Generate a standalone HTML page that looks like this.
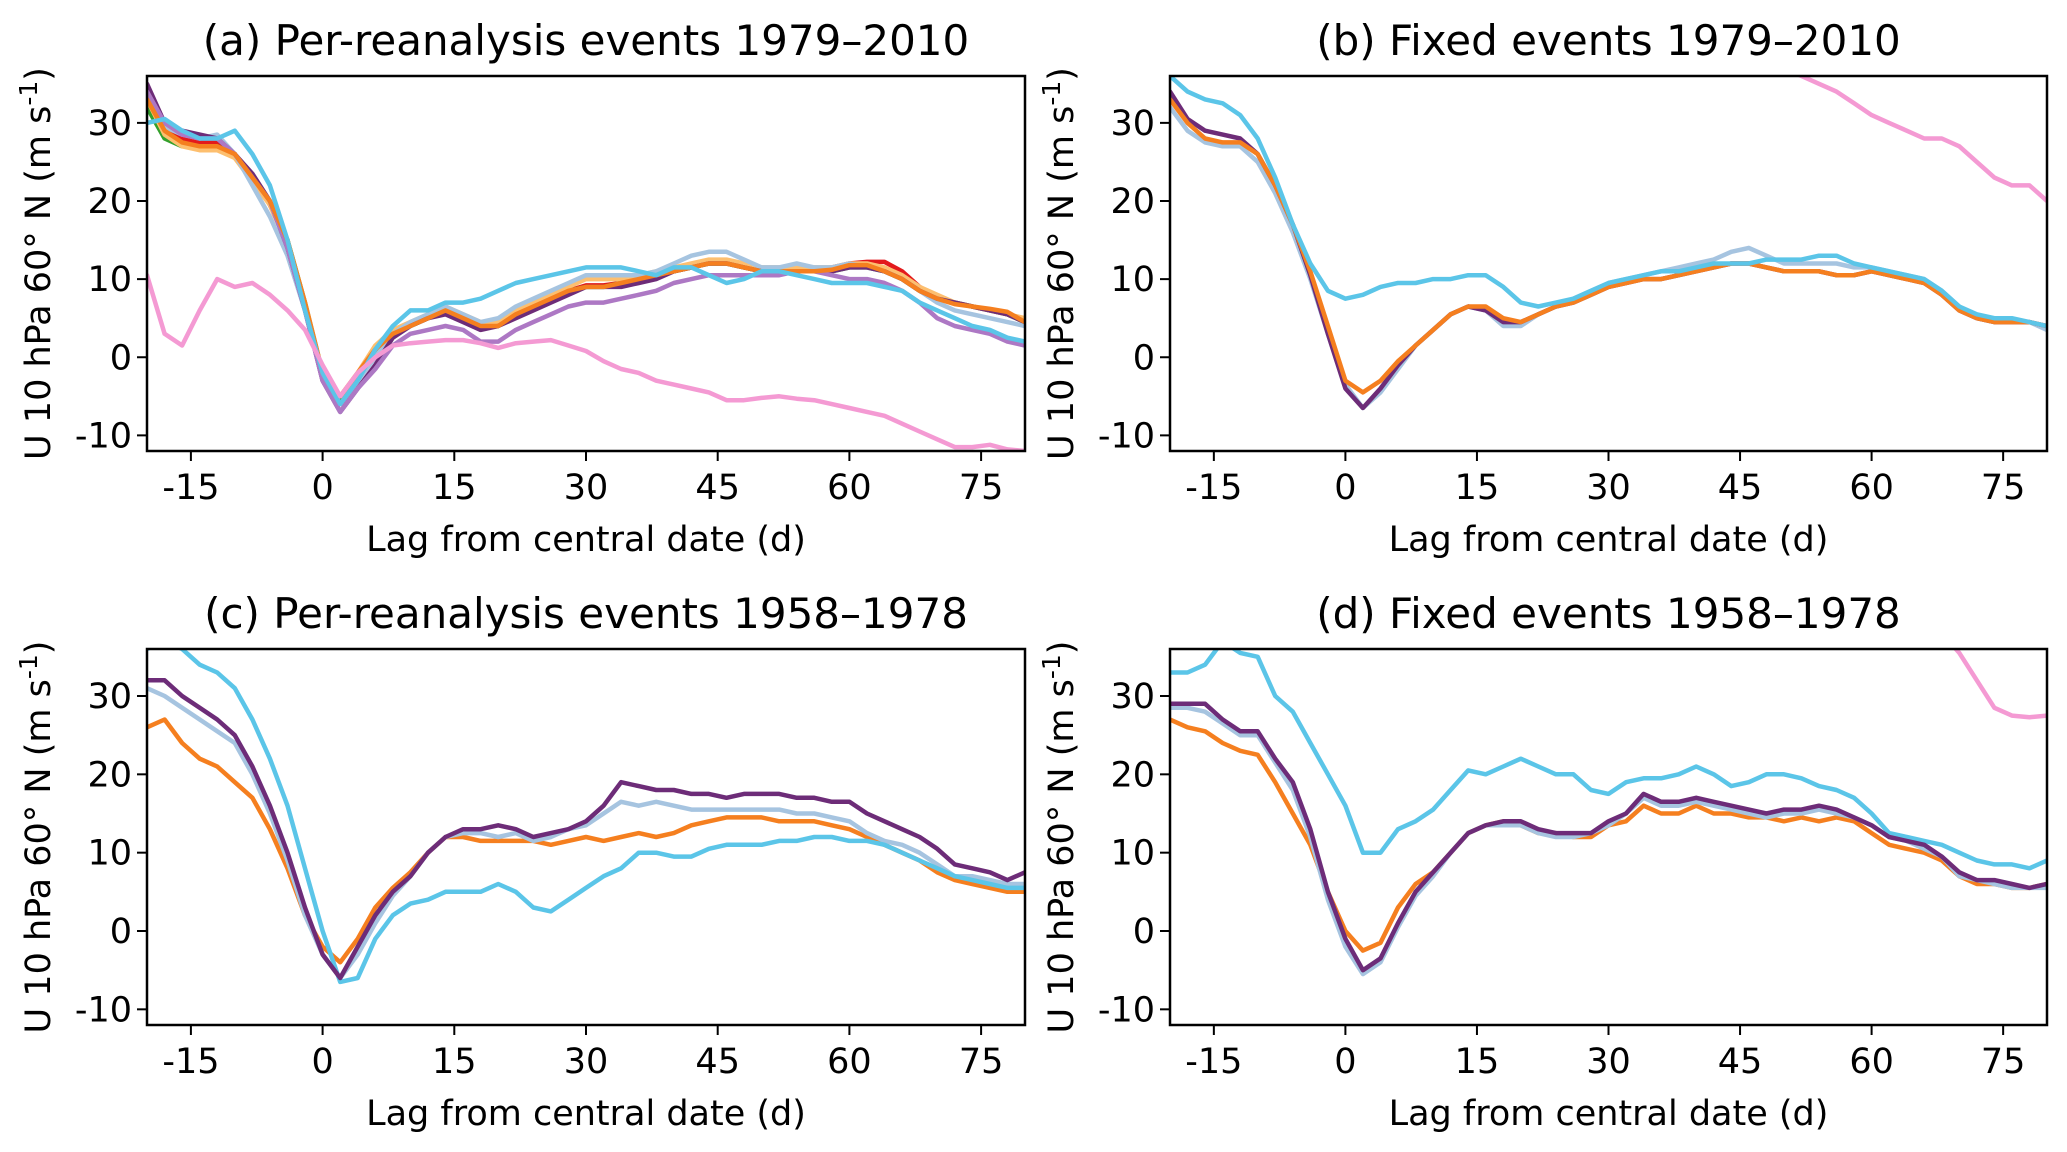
<!DOCTYPE html>
<html><head><meta charset="utf-8"><style>
html,body{margin:0;padding:0;background:#fff;}
svg{display:block;font-family:"DejaVu Sans","Liberation Sans",sans-serif;}
</style></head><body>
<svg id="fig" width="2067" height="1152" viewBox="0 0 2067 1152"></svg>
<script>
const lags = Array.from({length:51},(_,i)=>-20+2*i);
const xTicks = [-15,0,15,30,45,60,75];
const yTicks = [-10,0,10,20,30];
const titles = ["(a) Per-reanalysis events 1979–2010","(b) Fixed events 1979–2010","(c) Per-reanalysis events 1958–1978","(d) Fixed events 1958–1978"];

// Panel a
const aRed = [33.5,29.5,28,27.5,27.5,26,23,19.5,14.5,6.5,-2.5,-6,-3,0.5,3,4,5,6,5,4,4.2,5.5,6.5,7.5,8.5,9.2,9.2,9.5,10,10.5,11,11.5,12.2,12.2,11.5,11.2,11,11.2,11.2,11.5,12,12.2,12.2,11,9,7.5,7,6.5,6,5.5,4.5];
const aGreen = [32,28,27,27,27,26,23,20,15,7,-2,-5.5,-2.5,1,3,4,5,6,5,4,4,5.5,6.5,7.5,8.5,9,9,9.5,10,10.5,11,11.5,12,12,11.5,11,11,11,11,11,11.5,11.5,11,10,8.5,7.5,7,6.5,6,5.5,4.5];
const aLightOrange = [33,28.5,27,26.5,26.5,25.5,22.5,19.5,14.5,7,-2,-5,-2,1.5,3.5,4.5,5.5,6.5,5.5,4.5,4.5,6,7,8,9,10,10,10,10.5,11,11.5,12,12.5,12.5,12,11.5,11.5,11.5,11.5,11.5,12,12,11.5,10.5,9,8,7,6.5,6,5.5,5];
const aLightBlue = [34,29.5,28.5,28,28.5,26,22,18,13,6,-2,-6,-3,0,3,4.5,5.5,6.5,5.5,4.5,5,6.5,7.5,8.5,9.5,10.5,10.5,10.5,10.5,11,12,13,13.5,13.5,12.5,11.5,11.5,12,11.5,11.5,12,11.5,11,10,8.5,7,6,5.5,5,4.5,4];
const aDarkPurple = [35,30,29,28.5,28,26,23.5,20,14,6,-3,-7,-4,-1,2.5,4,5,5.5,4.5,3.5,4,5,6,7,8,9,9,9,9.5,10,11,11.5,12,12,11.5,11,11,11,11,11,11.5,11.5,11,10,8.5,7.5,7,6.5,6,5.5,4.5];
const aOrchid = [34,30,28.5,28,28,26,23,20,14,6,-3,-7,-4,-1.5,1.5,3,3.5,4,3.5,2,2,3.5,4.5,5.5,6.5,7,7,7.5,8,8.5,9.5,10,10.5,10.5,10.5,10.5,10.5,11,11,10.5,10,10,9.5,8.5,7,5,4,3.5,3,2,1.5];
const aOrange = [33,29,27.5,27,27,26,23,20,15,7,-2,-5,-2,1,3,4,5,6,5,4,4,5.5,6.5,7.5,8.5,9,9,9.5,10,10.5,11,11.5,12,12,11.5,11,11,11,11,11.2,11.8,11.8,11,10,8.5,7.5,6.8,6.5,6.2,5.8,4.5];
const aCyan = [30,30.5,29,28,28,29,26,22,15,6,-2,-6,-3,1,4,6,6,7,7,7.5,8.5,9.5,10,10.5,11,11.5,11.5,11.5,11,10.5,11.5,11.5,10.5,9.5,10,11,11,10.5,10,9.5,9.5,9.5,9,8.5,7,6,5,4,3.5,2.5,2];
const aPink = [10.5,3,1.5,6,10,9,9.5,8,6,3.5,-1,-5,-2,0,1.5,1.8,2,2.2,2.2,1.8,1.2,1.8,2,2.2,1.5,0.8,-0.5,-1.5,-2,-3,-3.5,-4,-4.5,-5.5,-5.5,-5.2,-5,-5.3,-5.5,-6,-6.5,-7,-7.5,-8.5,-9.5,-10.5,-11.5,-11.5,-11.2,-11.8,-12];

// Panel b
const bOrange = [33,30,28,27.5,27.5,26,22,17,11,4,-3,-4.5,-3,-0.5,1.5,3.5,5.5,6.5,6.5,5,4.5,5.5,6.5,7,8,9,9.5,10,10,10.5,11,11.5,12,12,11.5,11,11,11,10.5,10.5,11,10.5,10,9.5,8,6,5,4.5,4.5,4.5,4];
const bLightBlue = [32,29,27.5,27,27,25,21,16,10,3,-3.5,-6.5,-4.5,-1.5,1.5,3.5,5.5,6.5,6,4,4,5.5,6.5,7.5,8.5,9.5,10,10.5,11,11.5,12,12.5,13.5,14,13,12,12,12,12,11.5,11.5,11,10.5,10,8.5,6.5,5,4.5,4.5,4.5,3.5];
const bDarkPurple = [34,30.5,29,28.5,28,26,22,17,10.5,3,-4,-6.5,-4,-1,1.5,3.5,5.5,6.5,6,4.5,4.5,5.5,6.5,7,8,9,9.5,10,10,10.5,11,11.5,12,12,11.5,11,11,11,10.5,10.5,11,10.5,10,9.5,8,6,5,4.5,4.5,4.5,4];
const bCyan = [36,34,33,32.5,31,28,23,17,12,8.5,7.5,8,9,9.5,9.5,10,10,10.5,10.5,9,7,6.5,7,7.5,8.5,9.5,10,10.5,11,11,11.5,12,12,12,12.5,12.5,12.5,13,13,12,11.5,11,10.5,10,8.5,6.5,5.5,5,5,4.5,4];
const bPink = [null,null,null,null,null,null,null,null,null,null,null,null,null,null,null,null,null,null,null,null,null,null,null,null,null,null,null,null,null,null,null,null,null,null,null,37,36,35,34,32.5,31,30,29,28,28,27,25,23,22,22,20];

// Panel c
const cOrange = [26,27,24,22,21,19,17,13,8,2,-2,-4,-1,3,5.5,7.5,10,12,12,11.5,11.5,11.5,11.5,11,11.5,12,11.5,12,12.5,12,12.5,13.5,14,14.5,14.5,14.5,14,14,14,13.5,13,12,11,10,9,7.5,6.5,6,5.5,5,5];
const cLightBlue = [31,30,28.5,27,25.5,24,20,15,9,2,-3,-6,-3,1,4.5,7,10,12,12.5,12.5,12,12.5,11.5,12,13,13.5,15,16.5,16,16.5,16,15.5,15.5,15.5,15.5,15.5,15.5,15,15,14.5,14,12.5,11.5,11,10,8.5,7,7,6.5,6,6];
const cDarkPurple = [32,32,30,28.5,27,25,21,16,10,3,-3,-6,-2,2,5,7,10,12,13,13,13.5,13,12,12.5,13,14,16,19,18.5,18,18,17.5,17.5,17,17.5,17.5,17.5,17,17,16.5,16.5,15,14,13,12,10.5,8.5,8,7.5,6.5,7.5];
const cCyan = [36,37,36,34,33,31,27,22,16,8,0,-6.5,-6,-1,2,3.5,4,5,5,5,6,5,3,2.5,4,5.5,7,8,10,10,9.5,9.5,10.5,11,11,11,11.5,11.5,12,12,11.5,11.5,11,10,9,8,7,6.5,6,5.5,5.5];

// Panel d
const dOrange = [27,26,25.5,24,23,22.5,19,15,11,5,0,-2.5,-1.5,3,6,7.5,10,12.5,13.5,14,13.5,12.5,12.5,12,12,13.5,14,16,15,15,16,15,15,14.5,14.5,14,14.5,14,14.5,14,12.5,11,10.5,10,9,7,6,6,5.5,5.5,6];
const dLightBlue = [28.5,28.5,28,26.5,25,25,21.5,18,12,4,-2,-5.5,-4,0.5,4.5,7,10,12.5,13.5,13.5,13.5,12.5,12,12,12.5,13.5,15,17,16,16,16.5,16,15.5,15,14.5,15,15,15.5,15,14.5,13.5,12,11.5,10.5,9.5,7,6.5,6,5.5,5.5,5.5];
const dDarkPurple = [29,29,29,27,25.5,25.5,22,19,13,5,-1,-5,-3.5,1,5,7.5,10,12.5,13.5,14,14,13,12.5,12.5,12.5,14,15,17.5,16.5,16.5,17,16.5,16,15.5,15,15.5,15.5,16,15.5,14.5,13.5,12,11.5,11,9.5,7.5,6.5,6.5,6,5.5,6];
const dCyan = [33,33,34,37,35.5,35,30,28,24,20,16,10,10,13,14,15.5,18,20.5,20,21,22,21,20,20,18,17.5,19,19.5,19.5,20,21,20,18.5,19,20,20,19.5,18.5,18,17,15,12.5,12,11.5,11,10,9,8.5,8.5,8,9];
const dPink = [null,null,null,null,null,null,null,null,null,null,null,null,null,null,null,null,null,null,null,null,null,null,null,null,null,null,null,null,null,null,null,null,null,null,null,null,null,null,null,null,null,null,null,null,38,35.5,32,28.5,27.5,27.3,27.5];

const C = {red:"#e31a1c",green:"#33a02c",lorange:"#fdbf6f",lblue:"#a6c4e0",dpurple:"#6d2c78",orchid:"#ad78c4",orange:"#f57f1f",cyan:"#5bc5e8",pink:"#f49ad3"};

const panels = [
 {L:147,R:1025,T:76,B:451,title:titles[0],id:"a",series:[["red",aRed,C.red],["green",aGreen,C.green],["light-orange",aLightOrange,C.lorange],["light-blue",aLightBlue,C.lblue],["dark-purple",aDarkPurple,C.dpurple],["orchid",aOrchid,C.orchid],["orange",aOrange,C.orange],["cyan",aCyan,C.cyan],["pink",aPink,C.pink]]},
 {L:1170,R:2047,T:76,B:451,title:titles[1],id:"b",series:[["light-blue",bLightBlue,C.lblue],["dark-purple",bDarkPurple,C.dpurple],["orange",bOrange,C.orange],["cyan",bCyan,C.cyan],["pink",bPink,C.pink]]},
 {L:147,R:1025,T:649,B:1025,title:titles[2],id:"c",series:[["orange",cOrange,C.orange],["light-blue",cLightBlue,C.lblue],["cyan",cCyan,C.cyan],["dark-purple",cDarkPurple,C.dpurple]]},
 {L:1170,R:2047,T:649,B:1025,title:titles[3],id:"d",series:[["cyan",dCyan,C.cyan],["orange",dOrange,C.orange],["light-blue",dLightBlue,C.lblue],["dark-purple",dDarkPurple,C.dpurple],["pink",dPink,C.pink]]}
];

const NS="http://www.w3.org/2000/svg";
const svg=document.getElementById("fig");
function mk(tag,attrs,parent){const e=document.createElementNS(NS,tag);for(const k in attrs)e.setAttribute(k,attrs[k]);(parent||svg).appendChild(e);return e;}

const defs=mk("defs",{});
panels.forEach(p=>{
  const xs=d=>p.L+(d-(-20))/(80-(-20))*(p.R-p.L);
  const ys=v=>p.B-(v-(-12))/(36-(-12))*(p.B-p.T);
  const g=mk("g",{});
  
  
  const cp=mk("clipPath",{id:"clip-"+p.id},defs);
  mk("rect",{x:p.L,y:p.T,width:p.R-p.L,height:p.B-p.T},cp);
  const t=mk("text",{x:(p.L+p.R)/2,y:p.T-21,"text-anchor":"middle","font-size":"42"},g);
  t.textContent=p.title;
  
  
  const lg=mk("g",{"clip-path":"url(#clip-"+p.id+")"},g);
  p.series.forEach(s=>{
    let d="";let pen=false;
    s[1].forEach((v,i)=>{if(v===null){pen=false;return;}d+=(pen?"L":"M")+xs(lags[i]).toFixed(1)+","+ys(v).toFixed(1);pen=true;});
    const path=mk("path",{d:d,fill:"none",stroke:s[2],"stroke-width":"4.5","stroke-linejoin":"round","stroke-linecap":"round"},lg);
    
    
  });
  const frame=mk("rect",{x:p.L,y:p.T,width:p.R-p.L,height:p.B-p.T,fill:"none",stroke:"#000","stroke-width":"2.5"},g);
  
  
  xTicks.forEach(tv=>{
    const x=xs(tv);
    mk("line",{x1:x,x2:x,y1:p.B,y2:p.B+10,stroke:"#000","stroke-width":"2"},g);
    const tl=mk("text",{x:x,y:p.B+48,"text-anchor":"middle","font-size":"35"},g);
    tl.textContent=tv;
    
    
  });
  yTicks.forEach(tv=>{
    const y=ys(tv);
    mk("line",{x1:p.L-10,x2:p.L,y1:y,y2:y,stroke:"#000","stroke-width":"2"},g);
    const tl=mk("text",{x:p.L-15,y:y+12,"text-anchor":"end","font-size":"35"},g);
    tl.textContent=tv;
    
    
  });
  const xl=mk("text",{x:(p.L+p.R)/2,y:p.B+100,"text-anchor":"middle","font-size":"35"},g);
  xl.textContent="Lag from central date (d)";
  
  
  const cx=p.L-97, cy=(p.T+p.B)/2;
  const yl=mk("text",{x:cx,y:cy,"text-anchor":"middle","font-size":"35",transform:"rotate(-90 "+cx+" "+cy+")"},g);
  
  
  const t1=mk("tspan",{},yl);t1.textContent="U 10 hPa 60° N (m s";
  const t2=mk("tspan",{dy:"-13","font-size":"25"},yl);t2.textContent="-1";
  const t3=mk("tspan",{dy:"13"},yl);t3.textContent=")";
});
</script>
</body></html>
